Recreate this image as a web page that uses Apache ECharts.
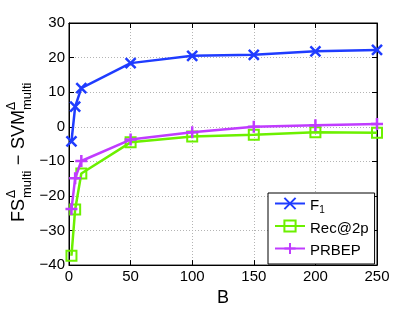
<!DOCTYPE html>
<html>
<head>
<meta charset="utf-8">
<script src="https://cdn.jsdelivr.net/npm/echarts@6/dist/echarts.min.js"></script>
<style>html,body{margin:0;padding:0;background:#fff;}#c{width:415px;height:312px;}</style>
</head>
<body>
<div id="c"></div>
<script>
const B = [2, 5, 10, 50, 100, 150, 200, 250];
const f1 = [-4.2, 5.8, 11.2, 18.4, 20.5, 20.8, 21.8, 22.2];
const rec2p = [-37.3, -23.9, -13.5, -4.5, -2.8, -2.3, -1.6, -1.7];
const prbep = [-23.8, -14.9, -9.9, -3.7, -1.6, 0.0, 0.4, 0.8];
const xTicks = [0, 50, 100, 150, 200, 250];
const yTicks = [-40, -30, -20, -10, 0, 10, 20, 30];
const seriesNames = ['F1', 'Rec@2p', 'PRBEP'];

const FONT = '"Liberation Sans", Arial, Helvetica, sans-serif';
const BLUE = '#1f3cff', GREEN = '#6cf000', PURPLE = '#c03cff';
const fmt = v => String(v).replace('-', '\u2212');

function pairs(xs, ys) { return xs.map((x, i) => [x, ys[i]]); }

const chart = echarts.init(document.getElementById('c'), null, {renderer: 'canvas'});
const axisCommon = {
  type: 'value',
  axisLine: {show: true, onZero: false, lineStyle: {color: '#000', width: 1}},
  axisTick: {show: true, inside: true, length: 5, lineStyle: {color: '#000'}}
};
chart.setOption({
  animation: false,
  backgroundColor: '#fff',
  textStyle: {fontFamily: FONT},
  grid: {left: 69, right: 38, top: 23, bottom: 39, containLabel: false,
         show: true, borderColor: '#000', borderWidth: 1, backgroundColor: 'rgba(0,0,0,0)'},
  xAxis: [
    Object.assign({}, axisCommon, {
      min: xTicks[0], max: xTicks[xTicks.length - 1], interval: 50, position: 'bottom',
      name: 'B', nameLocation: 'middle', nameGap: 17,
      nameTextStyle: {fontSize: 18, color: '#000', fontFamily: FONT},
      axisLabel: {show: true, margin: 4, fontSize: 15, color: '#000', fontFamily: FONT, formatter: fmt},
      splitLine: {show: true, lineStyle: {color: '#b4b4b4', type: [1, 2], width: 1}}
    }),
    Object.assign({}, axisCommon, {
      min: xTicks[0], max: xTicks[xTicks.length - 1], interval: 50, position: 'top',
      axisLabel: {show: false}, splitLine: {show: false}
    })
  ],
  yAxis: [
    Object.assign({}, axisCommon, {
      min: yTicks[0], max: yTicks[yTicks.length - 1], interval: 10, position: 'left',
      axisLabel: {show: true, margin: 4, fontSize: 15, color: '#000', fontFamily: FONT, formatter: fmt},
      splitLine: {show: true, lineStyle: {color: '#b4b4b4', type: [1, 2], width: 1}}
    }),
    Object.assign({}, axisCommon, {
      min: yTicks[0], max: yTicks[yTicks.length - 1], interval: 10, position: 'right',
      axisLabel: {show: false}, splitLine: {show: false}
    })
  ],
  legend: {
    show: true, orient: 'vertical', left: 268, top: 193,
    selectedMode: false,
    backgroundColor: '#fff', borderColor: '#000', borderWidth: 1, borderRadius: 0,
    padding: [3, 6, 3, 6], itemGap: 2.5, itemWidth: 30, itemHeight: 14,
    data: seriesNames,
    formatter: function (name) {
      if (name === 'F1') return '{a|F}{s|1}';
      return '{a|' + name + '}';
    },
    textStyle: {
      color: '#000', fontFamily: FONT, fontSize: 15,
      rich: {
        a: {fontSize: 15, lineHeight: 15, padding: [2.5, 0, 2.5, 0], verticalAlign: 'top', fontFamily: FONT, color: '#000'},
        s: {fontSize: 10, lineHeight: 10, padding: [9, 0, 1, 0], verticalAlign: 'top', fontFamily: FONT, color: '#000'}
      }
    }
  },
  series: [
    {
      name: seriesNames[0], type: 'line', data: pairs(B, f1),
      symbol: 'path://M0,0L10,10M10,0L0,10', symbolSize: 10, symbolKeepAspect: true,
      showAllSymbol: true,
      lineStyle: {color: BLUE, width: 2.5},
      itemStyle: {color: 'rgba(0,0,0,0)', borderColor: BLUE, borderWidth: 2.5},
      emphasis: {disabled: true}, z: 4
    },
    {
      name: seriesNames[1], type: 'line', data: pairs(B, rec2p),
      symbol: 'rect', symbolSize: 10,
      lineStyle: {color: GREEN, width: 2.5},
      itemStyle: {color: 'rgba(0,0,0,0)', borderColor: GREEN, borderWidth: 2},
      emphasis: {disabled: true}, z: 2
    },
    {
      name: seriesNames[2], type: 'line', data: pairs(B, prbep),
      symbol: 'path://M5,0L5,10M0,5L10,5', symbolSize: 12, symbolKeepAspect: true,
      lineStyle: {color: PURPLE, width: 2.5},
      itemStyle: {color: 'rgba(0,0,0,0)', borderColor: PURPLE, borderWidth: 2.5},
      emphasis: {disabled: true}, z: 3
    }
  ],
  graphic: [{
    type: 'group', x: 19, y: 222, rotation: Math.PI / 2,
    children: [
      {type: 'text', x: 0, y: 0, style: {text: 'FS', fontSize: 18, fontFamily: FONT, fill: '#000', align: 'left', verticalAlign: 'middle'}},
      {type: 'text', x: 24, y: -7, style: {text: '\u0394', fontSize: 12, fontFamily: FONT, fill: '#000', align: 'left', verticalAlign: 'middle'}},
      {type: 'text', x: 24, y: 8, style: {text: 'multi', fontSize: 13, fontFamily: FONT, fill: '#000', align: 'left', verticalAlign: 'middle'}},
      {type: 'text', x: 62, y: 0, style: {text: '\u2212', fontSize: 18, fontFamily: FONT, fill: '#000', align: 'center', verticalAlign: 'middle'}},
      {type: 'text', x: 73, y: 0, style: {text: 'SVM', fontSize: 18, fontFamily: FONT, fill: '#000', align: 'left', verticalAlign: 'middle'}},
      {type: 'text', x: 112, y: -7, style: {text: '\u0394', fontSize: 12, fontFamily: FONT, fill: '#000', align: 'left', verticalAlign: 'middle'}},
      {type: 'text', x: 112, y: 8, style: {text: 'multi', fontSize: 13, fontFamily: FONT, fill: '#000', align: 'left', verticalAlign: 'middle'}}
    ]
  }]
});
</script>
</body>
</html>
